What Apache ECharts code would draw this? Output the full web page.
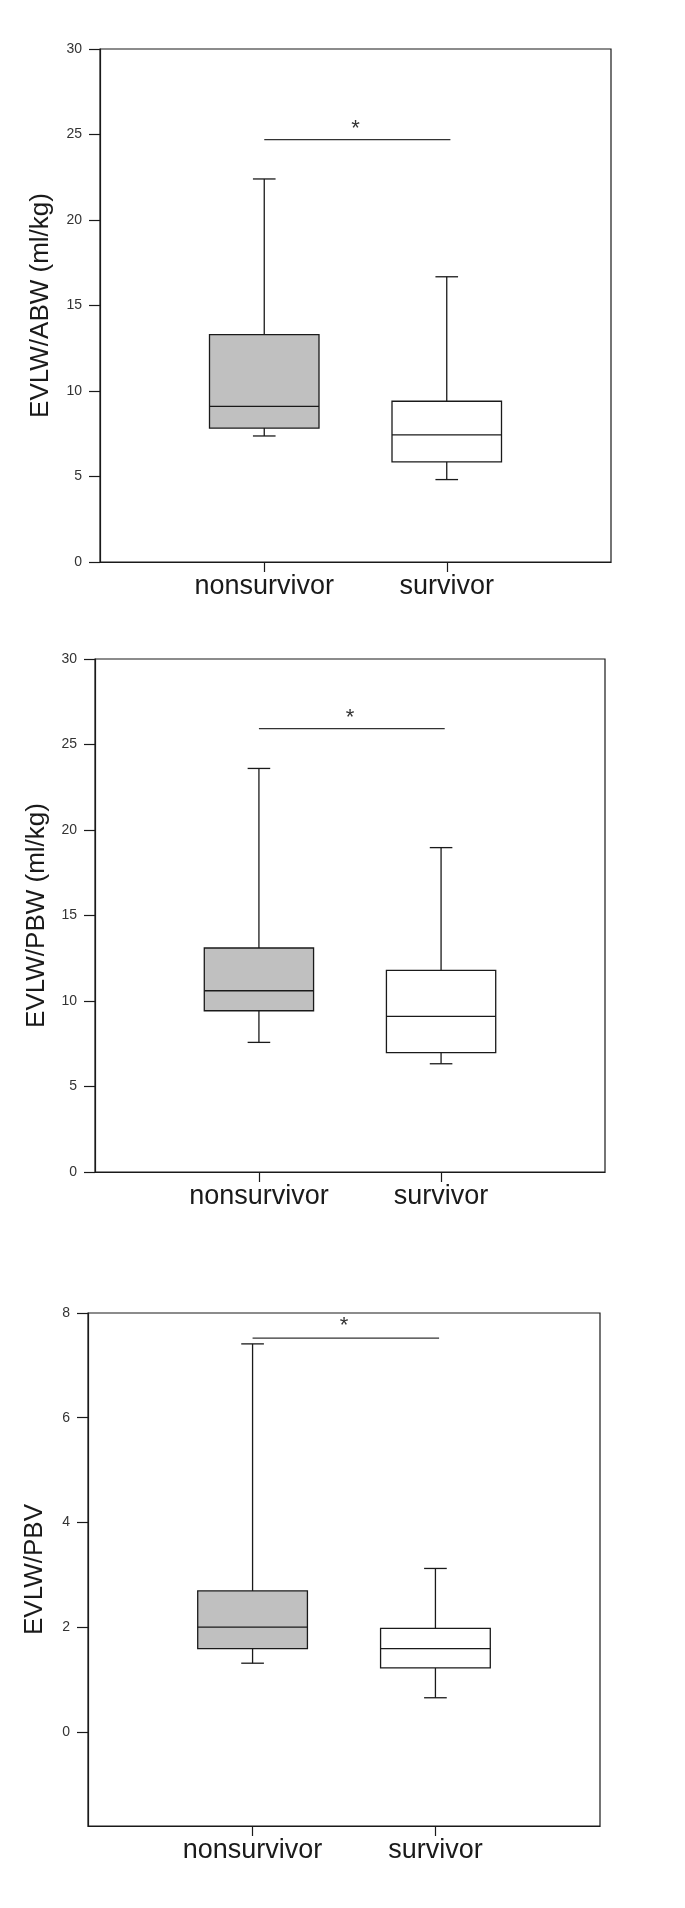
<!DOCTYPE html>
<html>
<head>
<meta charset="utf-8">
<style>
  html, body { margin: 0; padding: 0; background: #fff; }
  #chart { width: 685px; height: 1908px; }
</style>
<script src="https://cdn.jsdelivr.net/npm/echarts@6.0.0/dist/echarts.min.js"></script>
</head>
<body>
<div id="chart"></div>
<script>
// Groups compared in every panel
const categories = ['nonsurvivor', 'survivor'];

// Five-number summaries per group: [min, Q1, median, Q3, max]
const abwStats = [[7.37, 7.83, 9.1, 13.3, 22.4], [4.82, 5.86, 7.44, 9.4, 16.68]];
const pbwStats = [[7.58, 9.43, 10.6, 13.1, 23.6], [6.33, 6.98, 9.1, 11.79, 18.97]];
const pbvStats = [[1.31, 1.59, 2.0, 2.69, 7.41], [0.65, 1.22, 1.59, 1.975, 3.12]];

// Box fill per group
const boxFills = ['#c0c0c0', '#ffffff'];

// Y axis titles and tick labels
const yTitles = ['EVLW/ABW (ml/kg)', 'EVLW/PBW (ml/kg)', 'EVLW/PBV'];
const mlkgTicks = [0, 5, 10, 15, 20, 25, 30];
const ratioTicks = [0, 2, 4, 6, 8];

// Significance bar: height of the bar and of its star, per panel
const sigBarY = [24.7, 25.93, 7.52];
const sigStarY = [25.6, 26.85, 7.84];
const sigFrom = 1, sigTo = 2.02, sigMid = 1.5;

const panels = [
  { stats: abwStats, ticks: mlkgTicks, min: 0, max: 30, grid: { left: 100, top: 49, width: 511, height: 513 }, nameGap: 46 },
  { stats: pbwStats, ticks: mlkgTicks, min: 0, max: 30, grid: { left: 95, top: 659, width: 510, height: 513 }, nameGap: 45 },
  { stats: pbvStats, ticks: ratioTicks, min: -1.8, max: 8, grid: { left: 88, top: 1313, width: 512, height: 513 }, nameGap: 40 }
];

const INK = '#1a1a1a';
const FONT = 'Liberation Sans, Arial, sans-serif';
const STAR_SIZE = 22;

function renderBox(params, api) {
  const x = api.value(0);
  const lo = api.value(1), q1 = api.value(2), med = api.value(3), q3 = api.value(4), hi = api.value(5);
  const fill = boxFills[api.value(6)];
  const halfW = 0.3, capHalf = 0.062;
  const c = (xx, yy) => api.coord([xx, yy]);
  const lineStyle = { stroke: INK, lineWidth: 1.3 };
  const seg = (a, b) => ({ type: 'line', shape: { x1: a[0], y1: a[1], x2: b[0], y2: b[1] }, style: lineStyle });
  const tl = c(x - halfW, q3), br = c(x + halfW, q1);
  return {
    type: 'group',
    children: [
      seg(c(x, hi), c(x, q3)),
      seg(c(x, q1), c(x, lo)),
      seg(c(x - capHalf, hi), c(x + capHalf, hi)),
      seg(c(x - capHalf, lo), c(x + capHalf, lo)),
      { type: 'rect', shape: { x: tl[0], y: tl[1], width: br[0] - tl[0], height: br[1] - tl[1] },
        style: { fill: fill, stroke: INK, lineWidth: 1.3 } },
      seg(c(x - halfW, med), c(x + halfW, med))
    ]
  };
}

function renderSig(params, api) {
  const a = api.coord([api.value(0), api.value(2)]);
  const b = api.coord([api.value(1), api.value(2)]);
  const s = api.coord([api.value(3), api.value(4)]);
  // the asterisk glyph sits high in its line box; shift it so its centre lands on the point
  return {
    type: 'group',
    children: [
      { type: 'line', shape: { x1: a[0], y1: a[1], x2: b[0], y2: b[1] }, style: { stroke: '#333', lineWidth: 1.2 } },
      { type: 'text', x: s[0], y: s[1] + STAR_SIZE * 0.23,
        style: { text: '*', fill: '#333', font: STAR_SIZE + 'px ' + FONT, align: 'center', verticalAlign: 'middle' } }
    ]
  };
}

const grids = [], xAxes = [], yAxes = [], series = [];
panels.forEach((p, i) => {
  grids.push(Object.assign({ show: true, borderColor: INK, borderWidth: 1.2, backgroundColor: 'transparent' }, p.grid));
  xAxes.push({
    gridIndex: i, type: 'value', min: 0.1, max: 2.9,
    axisLine: { show: true, onZero: false, lineStyle: { color: INK, width: 1.2 } },
    splitLine: { show: false },
    axisTick: { show: true, customValues: [1, 2], length: 10, lineStyle: { color: INK, width: 1.2 } },
    axisLabel: { customValues: [1, 2], formatter: v => categories[Math.round(v) - 1],
      fontSize: 27, color: INK, margin: 11, fontFamily: FONT }
  });
  yAxes.push({
    gridIndex: i, type: 'value', min: p.min, max: p.max,
    name: yTitles[i], nameLocation: 'middle', nameGap: p.nameGap,
    nameTextStyle: { fontSize: 26, color: INK, fontFamily: FONT },
    axisLine: { show: true, lineStyle: { color: INK, width: 1.2 } },
    splitLine: { show: false },
    axisTick: { show: true, customValues: p.ticks, length: 11, lineStyle: { color: INK, width: 1.2 } },
    axisLabel: { customValues: p.ticks, fontSize: 14, color: '#333', margin: 18, fontFamily: FONT }
  });
  series.push({
    type: 'custom', xAxisIndex: i, yAxisIndex: i, renderItem: renderBox, silent: true,
    encode: { x: 0, y: [1, 2, 3, 4, 5] },
    data: p.stats.map((s, k) => [k + 1].concat(s).concat([k]))
  });
  series.push({
    type: 'custom', xAxisIndex: i, yAxisIndex: i, renderItem: renderSig, silent: true,
    encode: { x: [0, 1], y: [2] },
    data: [[sigFrom, sigTo, sigBarY[i], sigMid, sigStarY[i]]]
  });
});

const chart = echarts.init(document.getElementById('chart'), null, { renderer: 'canvas' });
chart.setOption({
  animation: false,
  backgroundColor: '#ffffff',
  grid: grids,
  xAxis: xAxes,
  yAxis: yAxes,
  series: series
});
</script>
</body>
</html>
